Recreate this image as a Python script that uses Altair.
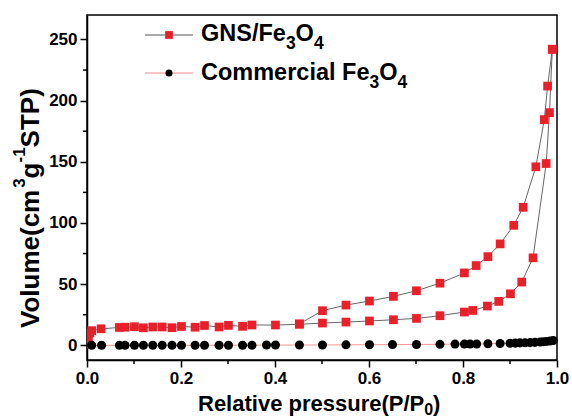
import altair as alt
import pandas as pd

# ---------------- data ----------------
gns_ads_p = [0.001, 0.003, 0.006, 0.010, 0.030, 0.069, 0.081, 0.101, 0.120, 0.140,
             0.160, 0.181, 0.201, 0.230, 0.250, 0.281, 0.301, 0.331, 0.351, 0.401,
             0.452, 0.501, 0.551, 0.601, 0.652, 0.701, 0.751, 0.803, 0.821, 0.852,
             0.876, 0.901, 0.925, 0.949, 0.977, 0.984, 0.990]
gns_ads_v = [1.0, 6.0, 10.0, 12.0, 13.5, 14.6, 14.8, 15.2, 14.3, 15.0,
             15.0, 14.4, 15.4, 14.8, 16.2, 15.0, 16.3, 15.5, 16.6, 16.6,
             17.2, 18.2, 19.0, 19.9, 20.9, 22.0, 24.2, 27.2, 28.5, 32.1,
             35.9, 42.1, 51.7, 71.5, 148.6, 190.2, 242.0]

gns_des_p = [0.990, 0.980, 0.973, 0.955, 0.928, 0.908, 0.879, 0.853, 0.828, 0.803,
             0.751, 0.701, 0.652, 0.601, 0.551, 0.501, 0.452]
gns_des_v = [242.0, 211.9, 184.5, 145.9, 112.8, 98.1, 82.9, 72.5, 65.2, 59.2,
             50.8, 44.6, 40.0, 36.2, 32.9, 28.3, 17.6]

com_p = [0.010, 0.031, 0.069, 0.081, 0.101, 0.120, 0.140, 0.160, 0.181, 0.201,
         0.230, 0.250, 0.281, 0.301, 0.331, 0.351, 0.382, 0.401, 0.452, 0.501,
         0.551, 0.601, 0.650, 0.701, 0.751, 0.783, 0.803, 0.815, 0.829, 0.853,
         0.879, 0.900, 0.911, 0.921, 0.932, 0.943, 0.953, 0.964, 0.971, 0.978,
         0.985, 0.992]
com_v = [0.0, 0.0, 0.0, 0.0, 0.0, 0.0, 0.0, 0.0, 0.0, 0.0,
         0.0, 0.0, 0.1, 0.1, 0.1, 0.1, 0.2, 0.2, 0.2, 0.3,
         0.4, 0.5, 0.6, 0.7, 0.8, 1.0, 1.0, 1.1, 1.1, 1.3,
         1.5, 1.7, 1.8, 2.0, 2.1, 2.2, 2.4, 2.7, 2.9, 3.2,
         3.5, 4.0]

x_ticks = [0.0, 0.2, 0.4, 0.6, 0.8, 1.0]
x_minor = [0.1, 0.3, 0.5, 0.7, 0.9]
y_ticks = [0, 50, 100, 150, 200, 250]
y_minor = [25, 75, 125, 175, 225]

series_names = ["GNS/Fe", "Commercial Fe"]

# ---------------- styling ----------------
FONT = "Liberation Sans"
RED = "#E8202A"
X0, Y0 = 87, 15          # plot-area origin in the page
PW, PH = 470, 345

# Arial/Liberation Sans Bold advance widths (per 1000 em)
AW = {' ': 278, '/': 278, '(': 333, ')': 333, '-': 333, '.': 278,
      '0': 556, '1': 556, '3': 556, '4': 556,
      'C': 722, 'F': 611, 'G': 778, 'N': 722, 'O': 778, 'P': 667, 'R': 722,
      'S': 667, 'T': 611, 'V': 667,
      'a': 556, 'c': 556, 'e': 556, 'g': 611, 'i': 278, 'l': 278, 'm': 889,
      'o': 611, 'p': 611, 'r': 389, 's': 556, 't': 333, 'u': 611, 'v': 556}


def tw(s, size):
    return sum(AW.get(c, 556) for c in s) * size / 1000.0


one = pd.DataFrame({"k": [0]})


def text_piece(txt, x, y, size, angle=0):
    kw = dict(text=txt, font=FONT, fontWeight="bold", fontSize=size,
              align="left", baseline="alphabetic", color="black")
    if angle:
        kw["angle"] = angle
    return alt.Chart(one).mark_text(**kw).encode(
        x=alt.value(x - X0), y=alt.value(y - Y0))


def horiz_pieces(pieces, x, base):
    out = []
    for txt, size, dy in pieces:
        out.append(text_piece(txt, x, base + dy, size))
        x += tw(txt, size)
    return out


def vert_pieces(pieces, xbase, y):
    out = []
    for txt, size, dx in pieces:
        out.append(text_piece(txt, xbase + dx, y, size, angle=270))
        y -= tw(txt, size)
    return out


# ---------------- data frames ----------------
gns = pd.concat([
    pd.DataFrame({"p": gns_ads_p, "v": gns_ads_v, "branch": "ads",
                  "i": range(len(gns_ads_p))}),
    pd.DataFrame({"p": gns_des_p, "v": gns_des_v, "branch": "des",
                  "i": range(len(gns_des_p))}),
], ignore_index=True)
com = pd.DataFrame({"p": com_p, "v": com_v, "i": range(len(com_p))})

xscale = alt.Scale(domain=[0, 1], nice=False, zero=False)
yscale = alt.Scale(domain=[-12, 270], nice=False, zero=False)
xaxis = alt.Axis(values=x_ticks, format=".1f", title=None, grid=False,
                 tickSize=7, labelPadding=3, labelFlush=False, labelOverlap=False)
yaxis = alt.Axis(values=y_ticks, format="d", title=None, grid=False,
                 tickSize=7, labelPadding=3, labelFlush=False, labelOverlap=False)

X = alt.X("p:Q", scale=xscale, axis=xaxis)
Y = alt.Y("v:Q", scale=yscale, axis=yaxis)

gns_line = alt.Chart(gns).mark_line(color="#555555", strokeWidth=0.9).encode(
    x=X, y=Y, detail="branch:N", order="i:Q")
gns_pts = alt.Chart(gns).mark_square(size=76, color=RED, opacity=1, clip=True).encode(
    x=X, y=Y)
com_line = alt.Chart(com).mark_line(color="#F08A8A", strokeWidth=0.9).encode(
    x=X, y=Y, order="i:Q")
com_pts = alt.Chart(com).mark_circle(size=82, color="black", opacity=1).encode(
    x=X, y=Y)

# minor ticks
ymin = alt.Chart(pd.DataFrame({"v": y_minor})).mark_rule(
    color="black", strokeWidth=1.5).encode(
    y=Y, x=alt.value(-4), x2=alt.value(0))
xmin = alt.Chart(pd.DataFrame({"p": x_minor})).mark_rule(
    color="black", strokeWidth=1.5).encode(
    x=X, y=alt.value(PH), y2=alt.value(PH + 4))

# ---------------- legend ----------------
leg = []
leg.append(alt.Chart(one).mark_rule(color="#555555", strokeWidth=1).encode(
    x=alt.value(145 - X0), x2=alt.value(193 - X0), y=alt.value(35 - Y0)))
leg.append(alt.Chart(one).mark_square(size=60, color=RED, opacity=1).encode(
    x=alt.value(169 - X0), y=alt.value(35 - Y0)))
leg.append(alt.Chart(one).mark_rule(color="#F08A8A", strokeWidth=1).encode(
    x=alt.value(145 - X0), x2=alt.value(193 - X0), y=alt.value(73 - Y0)))
leg.append(alt.Chart(one).mark_circle(size=50, color="black", opacity=1).encode(
    x=alt.value(169 - X0), y=alt.value(73 - Y0)))

LF, LS = 23.5, 17.5
leg += horiz_pieces([(series_names[0], LF, 0), ("3", LS, 8), ("O", LF, 0), ("4", LS, 8)],
                    201, 41)
leg += horiz_pieces([(series_names[1], LF, 0), ("3", LS, 8), ("O", LF, 0), ("4", LS, 8)],
                    201, 80)

# ---------------- axis titles ----------------
titles = []
titles += horiz_pieces([("Relative pressure(P/P", 22, 0), ("0", 16, 4), (")", 22, 0)],
                       198, 411)
titles += vert_pieces([("Volume(cm", 26, 0), ("3", 17, -14), ("g", 26, 0),
                       ("-1", 17, -14), ("STP)", 26, 0)],
                      39, 328)

chart = alt.layer(
    gns_line, com_line, gns_pts, com_pts, ymin, xmin, *leg, *titles
).properties(
    width=PW, height=PH,
    padding={"left": X0, "top": Y0, "right": 572 - X0 - PW, "bottom": 420 - Y0 - PH},
    autosize=alt.AutoSizeParams(type="none"),
    background="white",
).configure_view(
    stroke="black", strokeWidth=1.5
).configure_axis(
    labelFont=FONT, labelFontWeight="bold", labelFontSize=17, labelColor="black",
    tickColor="black", tickWidth=1.5, domainColor="black", domainWidth=1.5,
)

chart.save("out.html", embed_options={"renderer": "svg", "actions": False})
